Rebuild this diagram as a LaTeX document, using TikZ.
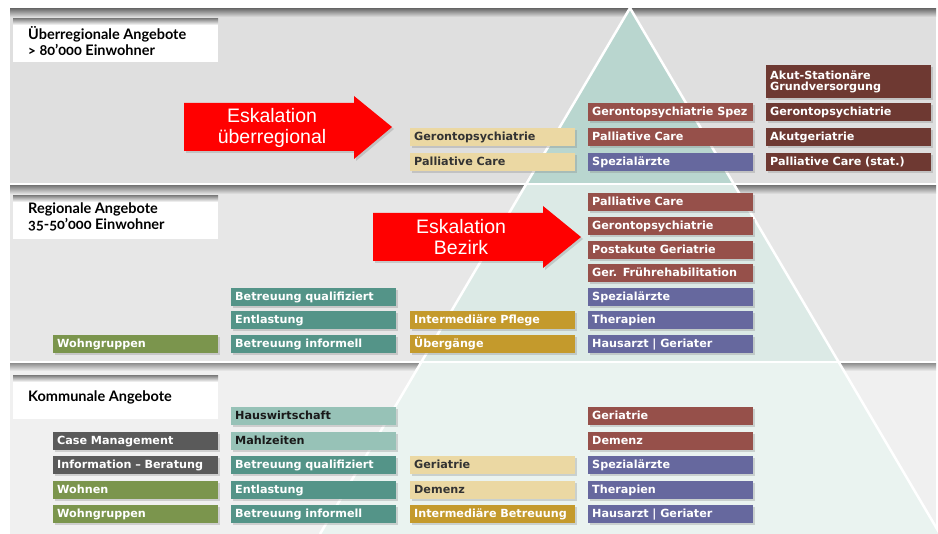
\documentclass[tikz,border=0pt]{standalone}
\usepackage{fontspec}
\setmainfont{Liberation Sans}
\newfontfamily\kastenfont{DejaVu Sans}
\newfontfamily\titelfont{Lato}[Numbers=OldStyle]
\usetikzlibrary{shadows}
\usetikzlibrary{positioning}

\definecolor{dunkelrot}{HTML}{6E3932}
\definecolor{rotbraun}{HTML}{96504A}
\definecolor{violett}{HTML}{66689E}
\definecolor{sand}{HTML}{EBD8A3}
\definecolor{ocker}{HTML}{C49A2C}
\definecolor{petrol}{HTML}{549488}
\definecolor{mint}{HTML}{97C2B7}
\definecolor{oliv}{HTML}{7B954D}
\definecolor{schiefer}{HTML}{5A5A5A}
\definecolor{bandeins}{HTML}{DFDFDF}
\definecolor{bandzwei}{HTML}{E7E7E7}
\definecolor{banddrei}{HTML}{F0F0F0}
\definecolor{spitzeeins}{HTML}{B9D6CF}
\definecolor{spitzezwei}{HTML}{DCEAE6}
\definecolor{spitzedrei}{HTML}{EAF3F0}

\tikzset{
  kasten/.style={anchor=north west, minimum width=165, minimum height=18,
    inner xsep=4pt, inner ysep=0pt, text width=157, align=left,
    text height=8.5pt, text depth=2.5pt,
    font=\kastenfont\bfseries\fontsize{11.2}{13}\selectfont, text=white,
    drop shadow={shadow xshift=1.5pt, shadow yshift=-2pt, opacity=.3}},
  kdrot/.style={kasten, fill=dunkelrot},
  krot/.style={kasten, fill=rotbraun},
  kblau/.style={kasten, fill=violett},
  ksand/.style={kasten, fill=sand, text=black!80},
  kocker/.style={kasten, fill=ocker},
  kpetrol/.style={kasten, fill=petrol},
  kmint/.style={kasten, fill=mint, text=black!90},
  koliv/.style={kasten, fill=oliv},
  kgrau/.style={kasten, fill=schiefer},
  ebene/.style={anchor=north west, inner sep=0pt, align=left,
    font=\titelfont\bfseries\fontsize{14.5}{16}\selectfont},
  pfeil/.style={fill=red, drop shadow={shadow xshift=2pt, shadow yshift=-2pt, opacity=.3}},
  pfeiltext/.style={text=white, align=center, font=\fontsize{19.5}{21}\selectfont},
}

\begin{document}
\begin{tikzpicture}[x=1pt,y=-1pt]
\useasboundingbox (0,0) rectangle (938,534);
\fill[white] (0,0) rectangle (938,534);

% drei Ebenen
\fill[bandeins] (10,9) rectangle (936,183);
\shade[top color=black!55, bottom color=bandeins] (10,9) rectangle (936,17);
\fill[bandzwei] (10,186) rectangle (936,361);
\shade[top color=black!50, bottom color=bandzwei] (10,186) rectangle (936,194);
\fill[banddrei] (10,364) rectangle (936,534);
\shade[top color=black!40, bottom color=banddrei] (10,364) rectangle (936,371);

% Pyramide
\begin{scope}
  \clip (10,0) rectangle (938,183);
  \fill[spitzeeins] (630,8) -- (320,534) -- (940,534) -- cycle;
\end{scope}
\begin{scope}
  \clip (10,186) rectangle (938,361);
  \fill[spitzezwei] (630,8) -- (320,534) -- (940,534) -- cycle;
\end{scope}
\begin{scope}
  \clip (10,364) rectangle (938,534);
  \fill[spitzedrei] (630,8) -- (320,534) -- (940,534) -- cycle;
\end{scope}
\draw[white, line width=2.5pt] (320,534) -- (630,8) -- (940,534);

% Titelfelder
\fill[white] (13,19) rectangle (218,62);
\shade[top color=black!45, bottom color=white] (13,19) rectangle (218,25);
\fill[white] (13,196) rectangle (218,239);
\shade[top color=black!45, bottom color=white] (13,196) rectangle (218,202);
\fill[white] (13,376) rectangle (218,419);
\shade[top color=black!45, bottom color=white] (13,376) rectangle (218,382);
\node[ebene] (tueber) at (28,26) {Überregionale Angebote\\> 80’000 Einwohner};
\node[ebene] (tregio) at (28,203) {Regionale Angebote\\35-50’000 Einwohner};
\node[ebene] (tkomm) at (28,391) {Kommunale Angebote};

% Eskalation
\fill[pfeil] (184,103) -- (354,103) -- (354,96) -- (392,127) -- (354,159) -- (354,151) -- (184,151) -- cycle;
\node[pfeiltext] (eskueber) at (272,128) {Eskalation\\überregional};
\fill[pfeil] (373,213) -- (543,213) -- (543,206) -- (581,237) -- (543,268) -- (543,261) -- (373,261) -- cycle;
\node[pfeiltext] (eskbezirk) at (461,237) {Eskalation\\Bezirk};

% Ueberregional
\node[kdrot, minimum height=33, text height=, text depth=] (u51) at (766,65) {Akut-Stationäre\\[-2pt]Grundversorgung};
\node[kdrot] (u52) at (766,103) {Gerontopsychiatrie};
\node[kdrot] (u53) at (766,128) {Akutgeriatrie};
\node[kdrot] (u54) at (766,153) {Palliative Care (stat.)};
\node[krot] (u41) at (588,103) {Gerontopsychiatrie Spez};
\node[krot] (u42) at (588,128) {Palliative Care};
\node[kblau] (u43) at (588,153) {Spezialärzte};
\node[ksand] (u31) at (410,128) {Gerontopsychiatrie};
\node[ksand] (u32) at (410,153) {Palliative Care};

% Regional
\node[krot] (r41) at (588,193) {Palliative Care};
\node[krot] (r42) at (588,217) {Gerontopsychiatrie};
\node[krot] (r43) at (588,241) {Postakute Geriatrie};
\node[krot] (r44) at (588,264) {Ger. Frührehabilitation};
\node[kblau] (r45) at (588,288) {Spezialärzte};
\node[kblau] (r46) at (588,311) {Therapien};
\node[kblau] (r47) at (588,335) {Hausarzt | Geriater};
\node[kocker] (r31) at (410,311) {Intermediäre Pflege};
\node[kocker] (r32) at (410,335) {Übergänge};
\node[kpetrol] (r21) at (231,288) {Betreuung qualifiziert};
\node[kpetrol] (r22) at (231,311) {Entlastung};
\node[kpetrol] (r23) at (231,335) {Betreuung informell};
\node[koliv] (r11) at (53,335) {Wohngruppen};

% Kommunal
\node[krot] (k41) at (588,407) {Geriatrie};
\node[krot] (k42) at (588,432) {Demenz};
\node[kblau] (k43) at (588,456) {Spezialärzte};
\node[kblau] (k44) at (588,481) {Therapien};
\node[kblau] (k45) at (588,505) {Hausarzt | Geriater};
\node[ksand] (k31) at (410,456) {Geriatrie};
\node[ksand] (k32) at (410,481) {Demenz};
\node[kocker] (k33) at (410,505) {Intermediäre Betreuung};
\node[kmint] (k21) at (231,407) {Hauswirtschaft};
\node[kmint] (k22) at (231,432) {Mahlzeiten};
\node[kpetrol] (k23) at (231,456) {Betreuung qualifiziert};
\node[kpetrol] (k24) at (231,481) {Entlastung};
\node[kpetrol] (k25) at (231,505) {Betreuung informell};
\node[kgrau] (k11) at (53,432) {Case Management};
\node[kgrau] (k12) at (53,456) {Information – Beratung};
\node[koliv] (k13) at (53,481) {Wohnen};
\node[koliv] (k14) at (53,505) {Wohngruppen};
\end{tikzpicture}
\end{document}
